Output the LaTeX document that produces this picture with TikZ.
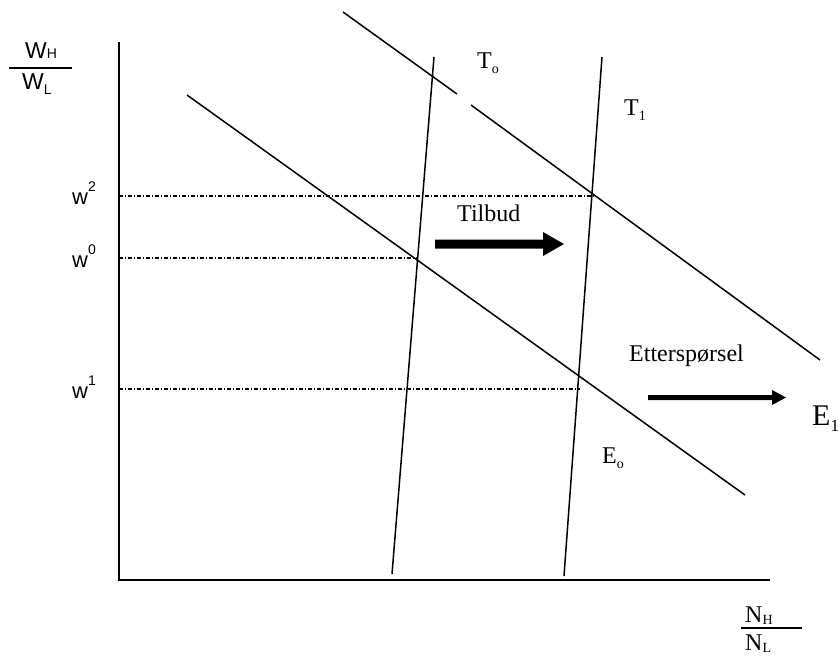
\documentclass[tikz,border=0pt]{standalone}
\usepackage{fontspec}
\setmainfont{Liberation Serif}
\setsansfont{Liberation Sans}
\newcommand{\mysub}[2][14]{\raisebox{-0.22em}{\fontsize{#1}{#1}\selectfont #2}}
\newcommand{\mysubb}[1]{\raisebox{-0.1em}{\fontsize{14}{14}\selectfont #1}}
\newcommand{\mysup}[1]{\raisebox{0.55em}{\fontsize{14}{14}\selectfont #1}}
\begin{document}
\begin{tikzpicture}[x=1pt,y=-1pt,
  curve/.style={line width=1.5pt,line cap=butt},
  axisline/.style={line width=1.8pt},
  guide/.style={line width=1.3pt,dash pattern=on 3.5pt off 2pt on 1.5pt off 2pt},
  lbl/.style={anchor=base west,inner sep=0pt,font=\fontsize{24}{28}\selectfont},
  slbl/.style={anchor=base west,inner sep=0pt,font=\sffamily\fontsize{22}{26}\selectfont},
  fracline/.style={line width=1.5pt}]
\useasboundingbox (0,0) rectangle (839,657);
% axes
\coordinate (ytop) at (119,42);
\coordinate (orig) at (119,580);
\coordinate (xend) at (770,580);
\draw[axisline] (ytop) -- (orig) -- (xend);
% demand curves
\coordinate (e0a) at (187,95);
\coordinate (e0b) at (745,495);
\draw[curve] (e0a) -- (e0b);
\coordinate (e1a) at (343,12);
\coordinate (e1b) at (457,94);
\coordinate (e1c) at (471,105);
\coordinate (e1d) at (820,360);
\draw[curve] (e1a) -- (e1b);
\draw[curve] (e1c) -- (e1d);
% supply curves
\coordinate (t0a) at (434,57);
\coordinate (t0b) at (392,574);
\draw[curve] (t0a) -- (t0b);
\coordinate (t1a) at (602,57);
\coordinate (t1b) at (564,576);
\draw[curve] (t1a) -- (t1b);
% guides
\coordinate (g2a) at (119,196); \coordinate (g2b) at (593,196);
\coordinate (g0a) at (119,258); \coordinate (g0b) at (418,258);
\coordinate (g1a) at (119,389); \coordinate (g1b) at (580,389);
\draw[guide] (g2a) -- (g2b);
\draw[guide] (g0a) -- (g0b);
\draw[guide] (g1a) -- (g1b);
% w labels
\node[slbl] (w2) at (72,204) {w\mysup{2}};
\node[slbl] (w0) at (72,267) {w\mysup{0}};
\node[slbl] (w1) at (72,398) {w\mysup{1}};
% y-axis fraction
\node[anchor=base west,inner sep=0pt,font=\sffamily\fontsize{23}{26}\selectfont] (wh) at (25,58) {W{\fontsize{14}{14}\selectfont H}};
\coordinate (fla) at (9,68); \coordinate (flb) at (72,68);
\draw[fracline] (fla) -- (flb);
\node[anchor=base west,inner sep=0pt,font=\sffamily\fontsize{23}{26}\selectfont] (wl) at (22,89) {W\mysub{L}};
% x-axis fraction
\node[lbl] (nh) at (745,622) {N\mysubb{H}};
\coordinate (nla) at (741,628); \coordinate (nlb) at (802,628);
\draw[fracline] (nla) -- (nlb);
\node[lbl] (nl) at (745,650) {N\mysubb{L}};
% curve labels
\node[lbl] (t0l) at (477,68) {T\mysub{o}};
\node[lbl] (t1l) at (624,115) {T\mysub{1}};
\node[lbl] (e0l) at (602,463) {E\mysub{o}};
\node[anchor=base west,inner sep=0pt,font=\fontsize{30}{34}\selectfont] (e1l) at (812,425) {E\mysub[17]{1}};
% shift labels and arrows
\node[lbl] (tilbud) at (457,221) {Tilbud};
\node[lbl] (ett) at (629,361) {Etterspørsel};
\fill (435,239.5) -- (543,239.5) -- (543,232) -- (564,244) -- (543,256) -- (543,248.5) -- (435,248.5) -- cycle;
\fill (648,395) -- (772,395) -- (772,390) -- (786,397.5) -- (772,405) -- (772,400) -- (648,400) -- cycle;
\end{tikzpicture}
\end{document}
